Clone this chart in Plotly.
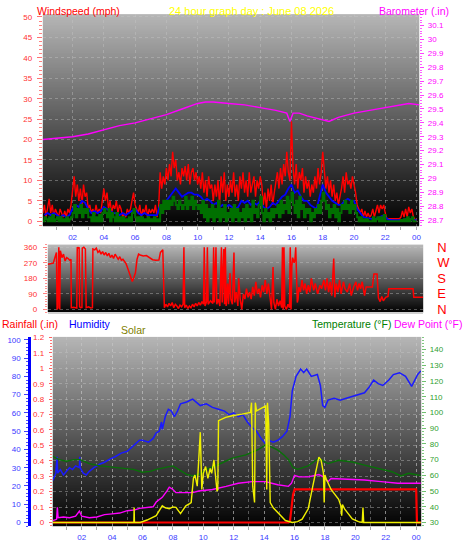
import base64
import struct
import zlib

import plotly.graph_objects as go

W, H = 470, 554
FONT = "Liberation Sans, Arial, sans-serif"

# ---------------- tick labels ----------------
hour_ticks = [2, 4, 6, 8, 10, 12, 14, 16, 18, 20, 22, 24]
hour_labels = ["02", "04", "06", "08", "10", "12", "14", "16", "18", "20", "22", "00"]
wind_ticks = [0, 5, 10, 15, 20, 25, 30, 35, 40, 45, 50]
baro_ticks = [28.7, 28.8, 28.9, 29.0, 29.1, 29.2, 29.3, 29.4, 29.5, 29.6, 29.7, 29.8, 29.9, 30.0, 30.1]
baro_labels = ["28.7", "28.8", "28.9", "29", "29.1", "29.2", "29.3", "29.4", "29.5", "29.6",
               "29.7", "29.8", "29.9", "30", "30.1"]
dir_ticks = [0, 90, 180, 270, 360]
dir_labels = ["0", "90", "180", "270", "360"]
compass_labels = ["N", "E", "S", "W", "N"]
rain_ticks = [0, 0.1, 0.2, 0.3, 0.4, 0.5, 0.6, 0.7, 0.8, 0.9, 1.0, 1.1, 1.2]
rain_labels = ["0", "0.1", "0.2", "0.3", "0.4", "0.5", "0.6", "0.7", "0.8", "0.9", "1", "1.1", "1.2"]
hum_ticks = [0, 10, 20, 30, 40, 50, 60, 70, 80, 90, 100]
temp_ticks = [30, 40, 50, 60, 70, 80, 90, 100, 110, 120, 130, 140]

# ---------------- wind (mph), one reading every 6 minutes from 00:06 ----------------
wind_gust = [
    2, 4, 1, 3, 5.5, 2, 4, 1, 3, 2,
    1, 3, 2, 1, 2.5, 1, 3, 2, 4, 7,
    11, 6, 9, 5, 8, 4, 9, 6, 7, 3,
    4, 2, 3, 1.5, 4, 2, 3, 2, 5, 8,
    5, 7, 3, 5, 2, 4, 3, 5, 2, 4,
    3, 1, 2, 1, 3, 2, 3, 5, 7, 4,
    3, 2, 4, 1, 3, 2, 4, 1, 3, 2,
    3, 2, 4, 1, 3, 12, 8, 11, 9, 13,
    10, 14, 11, 17, 13, 15, 10, 12, 9, 13,
    11, 13.5, 10, 14, 9, 12, 13, 10, 12, 9,
    11, 8, 12, 7, 10, 6, 11, 8, 9, 5,
    9, 6, 10, 4, 11, 7, 12, 5, 9, 6,
    10, 7, 12, 6, 9, 5, 11, 8, 12, 7,
    10, 6, 12, 7, 9, 11, 6, 10, 8, 11,
    9, 4, 7, 3, 8, 5, 9, 4, 7, 10,
    12, 8, 13, 9, 14, 11, 17, 12, 10, 24.5,
    13, 9, 14, 8, 12, 10, 13, 7, 11, 8,
    10, 6, 9, 7, 11, 8, 13, 9, 12, 17,
    12, 8, 11, 7, 10, 6, 9, 5, 7, 4,
    6, 8, 11, 7, 12, 9, 10, 8, 11, 9,
    7, 4, 3, 2, 3, 1, 2.5, 1, 2, 1,
    1.5, 3, 1, 2.5, 4, 2, 4, 3, 4, 2,
    0.6, 0.6, 0.6, 0.6, 0.6, 0.6, 0.6, 0.6, 0.6, 1,
    2.5, 1, 3, 1, 3.5, 2, 3, 1, 0.5, 0,
]
wind_speed = [
    0, 1, 0.5, 0, 1, 0, 1.5, 0, 0.5, 1,
    0, 1, 0, 0.5, 0, 1, 0, 0.5, 1, 2,
    4, 1, 3, 2, 4, 1, 3, 2, 3, 1,
    1, 0, 2, 0, 1, 0, 1.5, 0, 2, 3,
    2, 1, 3, 0, 2, 1, 0, 2, 0, 1,
    0, 1, 0, 0.5, 0, 1, 0, 2, 3, 1,
    0, 1, 0, 1, 0, 0.5, 0, 1, 0, 0.5,
    0, 1, 0, 0.5, 0, 4, 2, 5, 3, 5,
    3, 5, 4, 6, 5, 4, 3, 5, 4, 3,
    4, 6, 3, 5, 4, 6, 3, 5, 4, 3,
    4, 2, 5, 1, 4, 0, 3, 1, 4, 0,
    3, 1, 5, 0, 3, 1, 4, 0, 2, 1,
    3, 0, 4, 1, 3, 0, 2, 1, 3, 0,
    4, 1, 3, 0, 5, 2, 3, 1, 4, 6,
    2, 0, 3, 1, 2, 0, 3, 1, 3, 2,
    4, 1, 5, 2, 4, 3, 6, 2, 5, 7,
    4, 2, 5, 1, 6, 3, 4, 1, 3, 2,
    3, 0, 2, 1, 3, 2, 4, 2, 5, 7,
    5, 3, 4, 1, 3, 2, 4, 1, 3, 0,
    2, 4, 3, 5, 3, 4, 2, 5, 3, 4,
    2, 1, 0, 1, 0, 0.5, 0, 0.5, 0, 0,
    0, 1, 0, 0.5, 1, 0, 1, 0, 1.5, 0,
    0, 0, 0, 0, 0, 0, 0, 0, 0, 0.3,
    0, 0.5, 0, 1, 0, 0.5, 1, 0, 0, 0,
]
wind_hours = [round(0.1 * (i + 1), 1) for i in range(len(wind_gust))]

# average wind, one reading every 12 minutes
wind_avg = [
    1.5, 2, 1.5, 2, 1.5, 1, 1.5, 1, 1.5, 3,
    4, 3.5, 5, 4.5, 3, 2, 2.5, 2, 2.5, 3.5,
    3, 2.5, 2, 2, 1.5, 2, 1.5, 2, 2.5, 3,
    2, 1.5, 2, 1.5, 1.5, 1.5, 1.5, 4, 4, 5,
    6, 7, 8, 7, 6, 6.5, 7, 7, 6.5, 6.5,
    6, 5, 5.5, 5, 4, 4.5, 3.5, 4, 3.5, 4,
    3.5, 3, 3.5, 5, 4.5, 5, 4, 4.5, 4, 5,
    3.5, 3, 3.5, 4.5, 4, 5, 6, 6.5, 8, 9,
    7, 7.5, 6, 5, 5, 4, 3.5, 3, 6, 9,
    7, 6, 5, 4.5, 4, 4, 5, 5.5, 5, 5,
    3, 2, 1, 0.8, 0.6, 0.5, 0.6, 1, 1.3, 1,
    0.4, 0.3, 0.2, 0.2, 0.3, 0.4, 0.6, 0.5, 0.3, 0.2,
]
avg_hours = [round(0.2 * (i + 1), 1) for i in range(len(wind_avg))]

# ---------------- barometer (in) ----------------
baro_hours = [0.1, 1, 2, 3, 4, 5, 6, 7, 8, 9, 10, 10.5, 11, 12, 13, 14, 15, 15.7, 15.9, 16.1,
              16.5, 17, 18, 18.4, 19, 20, 21, 22, 23, 23.5, 24.2]
baro_vals = [29.28, 29.29, 29.30, 29.32, 29.35, 29.38, 29.40, 29.43, 29.46, 29.50, 29.54, 29.55,
             29.55, 29.54, 29.53, 29.51, 29.49, 29.47, 29.41, 29.47, 29.47, 29.45, 29.42, 29.41,
             29.44, 29.47, 29.49, 29.51, 29.53, 29.54, 29.53]

# ---------------- wind direction (deg) ----------------
dir_hours = [
    0.1, 0.22, 0.45, 0.55, 0.65, 0.69, 0.75, 0.8, 0.86, 0.9, 1.0, 1.1, 1.2, 1.3, 1.4, 1.5, 1.58,
    1.6, 1.75, 1.95, 1.98, 2.05, 2.1, 2.13, 2.2, 2.28, 2.3, 2.4, 2.5, 2.55, 2.7, 2.85, 2.95,
    2.98, 3.1, 3.2, 3.3, 3.4, 3.5, 3.6, 3.7, 3.8, 3.9, 4.0, 4.1, 4.2, 4.3, 4.4, 4.5, 4.6, 4.7,
    4.8, 4.9, 5.0, 5.1, 5.2, 5.3, 5.4, 5.5, 5.6, 5.7, 5.8, 5.9, 6.0, 6.2, 6.4, 6.6, 6.8, 7.0,
    7.2, 7.3, 7.45,
    7.55, 7.65, 7.75, 7.85, 7.95, 8.05, 8.15, 8.25, 8.35, 8.45, 8.55, 8.65, 8.75, 8.8, 8.85,
    8.95, 9.05, 9.15, 9.25, 9.35, 9.45, 9.55, 9.65, 9.75, 9.85, 9.95, 10.05, 10.1, 10.15,
    10.25, 10.3, 10.35, 10.5, 10.65, 10.7, 10.75, 10.85, 10.9, 11.0, 11.1, 11.2, 11.25,
    11.35, 11.4, 11.45, 11.5, 11.6, 11.65, 11.75, 11.8, 11.9, 12.0, 12.05, 12.15, 12.25,
    12.3, 12.4, 12.5, 12.6, 12.7, 12.8, 12.9, 13.0, 13.1, 13.2, 13.3, 13.4, 13.5, 13.6,
    13.7, 13.8, 13.9, 14.0, 14.1, 14.2, 14.3, 14.4, 14.5, 14.55, 14.65, 14.75, 14.85, 14.95,
    15.05, 15.1, 15.15, 15.2, 15.25, 15.35, 15.45, 15.55, 15.6, 15.65, 15.7, 15.75, 15.85,
    15.9, 15.95, 16.05, 16.1, 16.15, 16.25, 16.35, 16.45, 16.55, 16.65, 16.75, 16.85, 16.95,
    17.1, 17.2, 17.35, 17.5, 17.6, 17.75, 17.85, 17.95, 18.05, 18.15, 18.25, 18.38, 18.45,
    18.55, 18.65, 18.75, 18.85, 19.0, 19.1, 19.25, 19.4, 19.5, 19.65, 19.8, 19.9, 20.0,
    20.1, 20.2, 20.35, 20.45, 20.6, 20.85, 20.95, 21.15, 21.24, 21.35, 21.45, 21.55, 21.7,
    21.85, 21.9, 23.45, 23.5, 24.1,
]
dir_vals = [
    262, 265, 268, 300, 330, 0, 10, 360, 0, 340, 300, 320, 280, 300, 295, 285, 290,
    10, 12, 8, 360, 355, 360, 15, 10, 12, 355, 360, 350, 10, 15, 8, 10,
    350, 345, 355, 330, 340, 320, 335, 315, 330, 310, 325, 300, 315, 295, 320, 300, 290, 305,
    285, 290, 275, 265, 240, 215, 190, 162, 185, 212, 290, 320, 315, 310, 312, 300, 288, 285,
    286, 330, 345,
    10, 30, 15, 35, 20, 40, 10, 30, 20, 5, 25, 15, 30, 360, 10,
    25, 5, 20, 10, 30, 15, 35, 20, 40, 25, 45, 30, 360, 20,
    45, 360, 30, 50, 35, 360, 40, 360, 30, 60, 20, 360, 40,
    350, 30, 360, 20, 150, 30, 210, 60, 30, 330, 40, 100, 20,
    180, 60, 0, 90, 60, 120, 70, 100, 60, 130, 80, 160, 90, 120,
    70, 140, 100, 170, 90, 150, 80, 0, 245, 40, 0, 60, 20, 50,
    10, 360, 0, 360, 20, 0, 30, 10, 360, 0, 250, 300, 270,
    290, 360, 40, 60, 130, 100, 170, 110, 150, 90, 140, 100, 180,
    110, 150, 90, 140, 120, 170, 110, 180, 100, 160, 80, 295, 70,
    150, 100, 170, 90, 160, 120, 100, 150, 80, 130, 160, 110, 150,
    120, 160, 80, 130, 130, 130, 205, 205, 66, 45, 75, 50, 70,
    75, 120, 120, 70, 70,
]

# ---------------- humidity (%) ----------------
hum_hours = [0.1, 0.3, 0.38, 0.42, 0.6, 0.8, 1.0, 1.2, 1.4, 1.6, 1.85, 1.87, 1.9, 2.1, 2.3, 2.5,
             2.8, 3.0, 3.2, 3.5, 3.9, 4.2, 4.6, 5.0, 5.4, 5.8, 6.0, 6.4, 6.7, 6.9, 7.1, 7.25,
             7.3, 7.5, 7.7, 7.9, 8.1, 8.3, 8.5, 8.9, 9.3, 9.5, 9.8, 10.2, 10.6, 11.0, 11.4,
             11.7, 12.0, 12.3, 12.6, 12.9, 13.2, 13.5, 13.8, 14.1, 14.3, 14.6, 14.9, 15.2,
             15.5, 15.7, 15.85, 16.1, 16.4, 16.6, 16.8, 17.1, 17.5, 17.7, 17.85, 18.0, 18.2,
             18.6, 19.0, 19.4, 19.8, 20.2, 20.6, 20.9, 21.2, 21.5, 21.8, 22.2, 22.5, 22.9,
             23.3, 23.7, 24.1, 24.3]
hum_vals = [23, 27, 36, 27, 29, 26, 28, 30, 29, 31, 30, 36, 30, 27, 26, 28,
            30, 31, 32, 33, 35, 36, 38, 39, 42, 45, 45, 44, 46, 49, 50, 55,
            51, 58, 62, 61, 58, 61, 65, 66, 67.5, 66, 64, 65, 63, 62, 61,
            59, 60, 58, 59, 55, 52, 50, 46, 43, 45, 44, 45, 47,
            50, 58, 72, 80, 84, 82, 84, 80, 81, 75, 64, 63, 67,
            68, 67, 68, 69, 70, 71, 74, 78, 76, 75, 78, 81, 82,
            80, 74.5, 81, 83]

# ---------------- temperature / dew point (F) ----------------
temp_hours = [0.1, 0.5, 1.0, 1.5, 1.9, 2.5, 3.2, 4.3, 5.4, 6.0, 6.5, 6.9, 7.5, 8.0, 8.5, 8.9,
              9.3, 9.8, 10.2, 11.0, 11.9, 12.8, 13.6, 14.1, 14.5, 14.9, 15.3, 15.6, 15.9,
              16.2, 16.9, 17.6, 17.9, 18.2, 18.9, 19.8, 20.6, 21.5, 22.4, 23.0, 23.5, 24.1, 24.3]
temp_vals = [72, 70, 69, 70, 70, 67.5, 66, 65, 63.8, 62, 62.5, 63.8, 65, 66, 63, 60.6,
             59.6, 61, 63.8, 66.9, 71, 73, 76.3, 79.4, 78, 76, 73, 70, 65,
             63.8, 66, 71, 69, 67.5, 69.6, 68.5, 66.5, 64.4, 62.3, 59.6, 61.3, 60.2, 60]

dew_hours = [0.1, 0.35, 0.4, 0.45, 0.8, 1.2, 1.6, 1.85, 2.0, 2.5, 3.0, 3.5, 4.0, 4.5, 5.0, 5.5,
             5.8, 6.3, 6.7, 6.9, 7.3, 7.6, 7.76, 8.0, 8.2, 8.6, 9.3, 9.7, 10.6, 11.5, 12.3,
             13.2, 14.1, 14.5, 14.9, 15.6, 15.8, 16.0, 16.3, 16.9, 17.6, 17.9, 18.2, 18.4,
             19.5, 20.6, 21.7, 22.8, 24.1, 24.3]
dew_vals = [31.2, 32, 39.6, 33, 33.5, 33, 34, 37.3, 34, 33, 33.5, 35, 35.5, 36, 37.5, 38,
            39, 39.5, 40, 43, 46, 50, 52.5, 51, 49, 49, 49, 50, 51, 53, 55,
            56, 56, 55, 54, 53, 55, 60, 59, 59, 60.5, 59, 56, 58,
            57.5, 57, 56, 55, 55, 55]

# ---------------- rainfall (in) ----------------
rain_hours = [0.1, 15.6, 15.7, 15.8, 15.9, 16.0, 24.0, 24.05, 24.3]
rain_vals = [0, 0, 0.01, 0.08, 0.18, 0.215, 0.215, 0, 0]

# ---------------- solar (W/m2) ----------------
solar_hours = [0.1, 5.43, 5.45, 5.47, 5.85, 6.3, 6.9, 7.3, 7.5, 7.76, 8.0, 8.2, 8.5, 8.85, 9.1,
               9.2, 9.35, 9.45, 9.6, 9.72, 9.8, 9.9, 10.0, 10.15, 10.3, 10.45, 10.55, 10.7,
               10.8, 10.9, 10.95, 11.0, 11.47, 11.9, 12.55, 13.1, 13.17, 13.25, 13.37, 13.42,
               13.5, 13.85, 14.1, 14.17, 14.22, 14.3, 14.4, 14.6, 14.9, 15.4, 15.85, 16.2,
               16.5, 16.9, 17.2, 17.4, 17.6, 17.75, 17.9, 17.95, 18.0, 18.1, 18.4, 18.9,
               19.05, 19.1, 19.15, 19.3, 19.8, 20.2, 20.45, 20.5, 20.55, 24.3]
solar_vals = [0, 0, 92, 0, 0, 15, 42, 102, 90, 84, 95, 92, 54, 102, 115,
              122, 270, 290, 222, 382, 552, 202, 300, 342, 270, 330, 300, 382,
              262, 192, 200, 622, 642, 652, 662, 672, 732, 222, 122, 732,
              682, 702, 712, 202, 732, 600, 122, 90, 62, 12, 0, 5,
              20, 84, 222, 302, 400, 380, 302, 122, 290, 262, 202, 142,
              100, 42, 110, 82, 22, 5, 0, 92, 0, 0]


# ---------------- helpers ----------------
def xd(a, b):
    return [a / W, b / W]


def yd(top, bottom):
    return [1 - bottom / H, 1 - top / H]


def gradient_png(top, bottom, n=256):
    rows = b""
    for i in range(n):
        t = i / (n - 1)
        c = int(round(top + (bottom - top) * t))
        rows += b"\x00" + bytes([c, c, c])

    def chunk(tag, data):
        return (struct.pack(">I", len(data)) + tag + data
                + struct.pack(">I", zlib.crc32(tag + data) & 0xFFFFFFFF))

    ihdr = struct.pack(">IIBBBBB", 1, n, 8, 2, 0, 0, 0)
    png = b"\x89PNG\r\n\x1a\n" + chunk(b"IHDR", ihdr) + chunk(b"IDAT", zlib.compress(rows)) + chunk(b"IEND", b"")
    return "data:image/png;base64," + base64.b64encode(png).decode()


GRID = "rgba(200,200,200,0.4)"
BLUE_TXT = "#3a3aff"

P1_Y = yd(9.3, 225)
P2_Y = yd(244, 313)
P3_Y = yd(338, 531)

fig = go.Figure()

# panel 1: wind + barometer
fig.add_trace(go.Scatter(x=wind_hours, y=wind_gust, mode="lines", line=dict(color="#ff0000", width=1.4),
                         xaxis="x", yaxis="y", hoverinfo="skip"))
fig.add_trace(go.Scatter(x=avg_hours, y=wind_avg, mode="lines", line=dict(color="#0000ff", width=1.8),
                         xaxis="x", yaxis="y", hoverinfo="skip"))
fig.add_trace(go.Scatter(x=wind_hours, y=wind_speed, mode="lines", line=dict(color="#007000", width=2, shape="hv"),
                         xaxis="x", yaxis="y", hoverinfo="skip"))
fig.add_trace(go.Scatter(x=baro_hours, y=baro_vals, mode="lines", line=dict(color="#ff00ff", width=1.4),
                         xaxis="x", yaxis="y2", hoverinfo="skip"))

# panel 2: direction on the numeric axis; empty trace registers the compass axis
fig.add_trace(go.Scatter(x=dir_hours, y=dir_vals, mode="lines", line=dict(color="#ff0000", width=1.5),
                         xaxis="x2", yaxis="y3", hoverinfo="skip"))
fig.add_trace(go.Scatter(x=[], y=[], mode="lines", xaxis="x2", yaxis="y4", hoverinfo="skip"))

# panel 3
fig.add_trace(go.Scatter(x=rain_hours, y=rain_vals, mode="lines", line=dict(color="#ff0000", width=2.2),
                         xaxis="x3", yaxis="y5", hoverinfo="skip"))
fig.add_trace(go.Scatter(x=hum_hours, y=hum_vals, mode="lines", line=dict(color="#1a1aff", width=1.5),
                         xaxis="x3", yaxis="y6", hoverinfo="skip"))
fig.add_trace(go.Scatter(x=temp_hours, y=temp_vals, mode="lines", line=dict(color="#087008", width=1.4),
                         xaxis="x3", yaxis="y7", hoverinfo="skip"))
fig.add_trace(go.Scatter(x=dew_hours, y=dew_vals, mode="lines", line=dict(color="#ff00ff", width=1.4),
                         xaxis="x3", yaxis="y7", hoverinfo="skip"))
fig.add_trace(go.Scatter(x=solar_hours, y=solar_vals, mode="lines", line=dict(color="#f0f000", width=1.4),
                         xaxis="x3", yaxis="y8", hoverinfo="skip"))

# gradient backgrounds (panel rectangles in pixels: left, top, right, bottom)
panels = [((43, 9.3, 421, 225), 182), ((48, 244, 425, 313), 185), ((53, 338, 423, 531), 182)]
images = []
for (l, t, r, b), top in panels:
    images.append(dict(source=gradient_png(top, 2), xref="paper", yref="paper",
                       x=l / W, y=1 - t / H, sizex=(r - l) / W, sizey=(b - t) / H,
                       xanchor="left", yanchor="top", sizing="stretch", layer="below"))

tickfont = dict(family=FONT, size=8)

layout = dict(
    width=W, height=H, autosize=False,
    margin=dict(l=0, r=0, t=0, b=0, pad=0),
    paper_bgcolor="white", plot_bgcolor="rgba(0,0,0,0)",
    showlegend=False,
    font=dict(family=FONT),
    images=images,
    xaxis=dict(domain=xd(43, 421), range=[0.096, 24.17], anchor="y",
               tickmode="array", tickvals=hour_ticks, ticktext=hour_labels,
               tickfont=dict(tickfont, color=BLUE_TXT), ticks="outside", ticklen=3, tickcolor="#a8a8a8",
               showgrid=True, gridcolor=GRID, griddash="dot", gridwidth=1,
               minor=dict(tickmode="linear", tick0=0, dtick=1, ticks="outside", ticklen=3, tickcolor="#a8a8a8"),
               showline=True, linecolor="#c8c8c8", linewidth=1, zeroline=False),
    yaxis=dict(domain=P1_Y, range=[-1.15, 50.7], anchor="x", side="left",
               tickmode="array", tickvals=wind_ticks, ticktext=[str(v) for v in wind_ticks],
               tickfont=dict(tickfont, color="#ff3030"), ticks="outside", ticklen=5, tickcolor="#ff7070",
               ticklabelstandoff=3,
               minor=dict(tickmode="linear", tick0=0, dtick=1, ticks="outside", ticklen=3, tickcolor="#ff8080"),
               showgrid=True, gridcolor=GRID, griddash="dot", gridwidth=1, zeroline=False),
    yaxis2=dict(domain=P1_Y, range=[28.658, 30.183], overlaying="y", side="right", anchor="x",
                tickmode="array", tickvals=baro_ticks, ticktext=baro_labels,
                tickfont=dict(tickfont, color="#ff00ff"), ticks="outside", ticklen=4, tickcolor="#ff40ff",
                ticklabelstandoff=2,
                minor=dict(tickmode="linear", tick0=28.7, dtick=0.02, ticks="outside", ticklen=2, tickcolor="#ff60ff"),
                showgrid=False, zeroline=False),
    xaxis2=dict(domain=xd(48, 425), range=[0.096, 24.1], anchor="y3", showticklabels=False,
                ticks="", showgrid=False, zeroline=False,
                showline=True, linecolor="#d0d0d0", linewidth=2),
    yaxis3=dict(domain=P2_Y, range=[-17, 375.4], anchor="x2", side="left",
                tickmode="array", tickvals=dir_ticks, ticktext=dir_labels,
                tickfont=dict(tickfont, color="#ff3030"), ticks="outside", ticklen=4, tickcolor="#ff8080",
                ticklabelstandoff=4,
                minor=dict(tickmode="linear", tick0=0, dtick=15, ticks="outside", ticklen=2, tickcolor="#ff9090"),
                showgrid=True, gridcolor=GRID, griddash="dot", gridwidth=1, zeroline=False),
    yaxis4=dict(domain=P2_Y, range=[-17, 375.4], overlaying="y3", side="right", anchor="x2",
                tickmode="array", tickvals=dir_ticks, ticktext=compass_labels,
                tickfont=dict(family=FONT, size=13, color="#ff0000"), ticks="",
                ticklabelstandoff=13, showgrid=False, zeroline=False),
    xaxis3=dict(domain=xd(53, 423), range=[0.098, 24.33], anchor="y5",
                tickmode="array", tickvals=hour_ticks, ticktext=hour_labels,
                tickfont=dict(tickfont, color=BLUE_TXT), ticks="outside", ticklen=3, tickcolor="#a8a8a8",
                showgrid=True, gridcolor=GRID, griddash="dot", gridwidth=1,
                minor=dict(tickmode="linear", tick0=0, dtick=1, ticks="outside", ticklen=3, tickcolor="#a8a8a8",
                           showgrid=True, gridcolor=GRID, griddash="dot", gridwidth=1),
                showline=True, linecolor="#c8c8c8", linewidth=1, zeroline=False),
    yaxis5=dict(domain=P3_Y, range=[-0.0255, 1.204], anchor="x3", side="left",
                tickmode="array", tickvals=rain_ticks, ticktext=rain_labels,
                tickfont=dict(tickfont, color="#ff3030"), ticks="outside", ticklen=3, tickcolor="#ff6060",
                ticklabelstandoff=3,
                minor=dict(tickmode="linear", tick0=0, dtick=0.02, ticks="outside", ticklen=2, tickcolor="#ff7070"),
                showgrid=True, gridcolor=GRID, griddash="dot", gridwidth=1, zeroline=False),
    yaxis6=dict(domain=P3_Y, range=[-2.15, 101.6], overlaying="y5", side="left", anchor="free", position=29.5 / W,
                tickmode="array", tickvals=hum_ticks, ticktext=[str(v) for v in hum_ticks],
                tickfont=dict(tickfont, color="#3a3aff"), ticks="outside", ticklen=4, tickcolor="#4040ff",
                ticklabelstandoff=2,
                minor=dict(tickmode="linear", tick0=0, dtick=2, ticks="outside", ticklen=2, tickcolor="#5050ff"),
                showline=True, linecolor="#0000ff", linewidth=3, showgrid=False, zeroline=False),
    yaxis7=dict(domain=P3_Y, range=[27.5, 148.1], overlaying="y5", side="right", anchor="x3",
                tickmode="array", tickvals=temp_ticks, ticktext=[str(v) for v in temp_ticks],
                tickfont=dict(tickfont, color="#30a030"), ticks="outside", ticklen=4, tickcolor="#70c070",
                ticklabelstandoff=2,
                minor=dict(tickmode="linear", tick0=30, dtick=2, ticks="outside", ticklen=2, tickcolor="#80c880"),
                showgrid=False, zeroline=False),
    yaxis8=dict(domain=P3_Y, range=[-24, 1134], overlaying="y5", anchor="x3", visible=False),
)

annotations = [
    dict(text="Windspeed (mph)", x=35, y=6, anchor="left", color="#ff0000", size=10.5),
    dict(text="24 hour graph day : June 08 2026", x=253, y=6, anchor="center", color="#ffff00", size=11),
    dict(text="Barometer (.in)", x=453, y=6, anchor="right", color="#ff00ff", size=10.5),
    dict(text="Rainfall (.in)", x=0, y=325, anchor="left", color="#ff0000", size=10.5),
    dict(text="Humidity", x=67, y=325, anchor="left", color="#0000ff", size=10.5),
    dict(text="Solar", x=120, y=331, anchor="left", color="#808000", size=10.5),
    dict(text="Temperature (°F)", x=395, y=325, anchor="right", color="#008000", size=10.5),
    dict(text="Dew Point (°F)", x=466, y=325, anchor="right", color="#ff00ff", size=10.5),
]
layout["annotations"] = [
    dict(text=a["text"], x=a["x"] / W, y=1 - a["y"] / H, xref="paper", yref="paper",
         xanchor=a["anchor"], yanchor="middle", showarrow=False,
         font=dict(family=FONT, size=a["size"], color=a["color"])) for a in annotations
]

fig.update_layout(**layout)
fig.write_html("out.html", config={"displayModeBar": False},
               post_script="document.body.style.margin='0px';document.body.style.overflow='hidden';")
